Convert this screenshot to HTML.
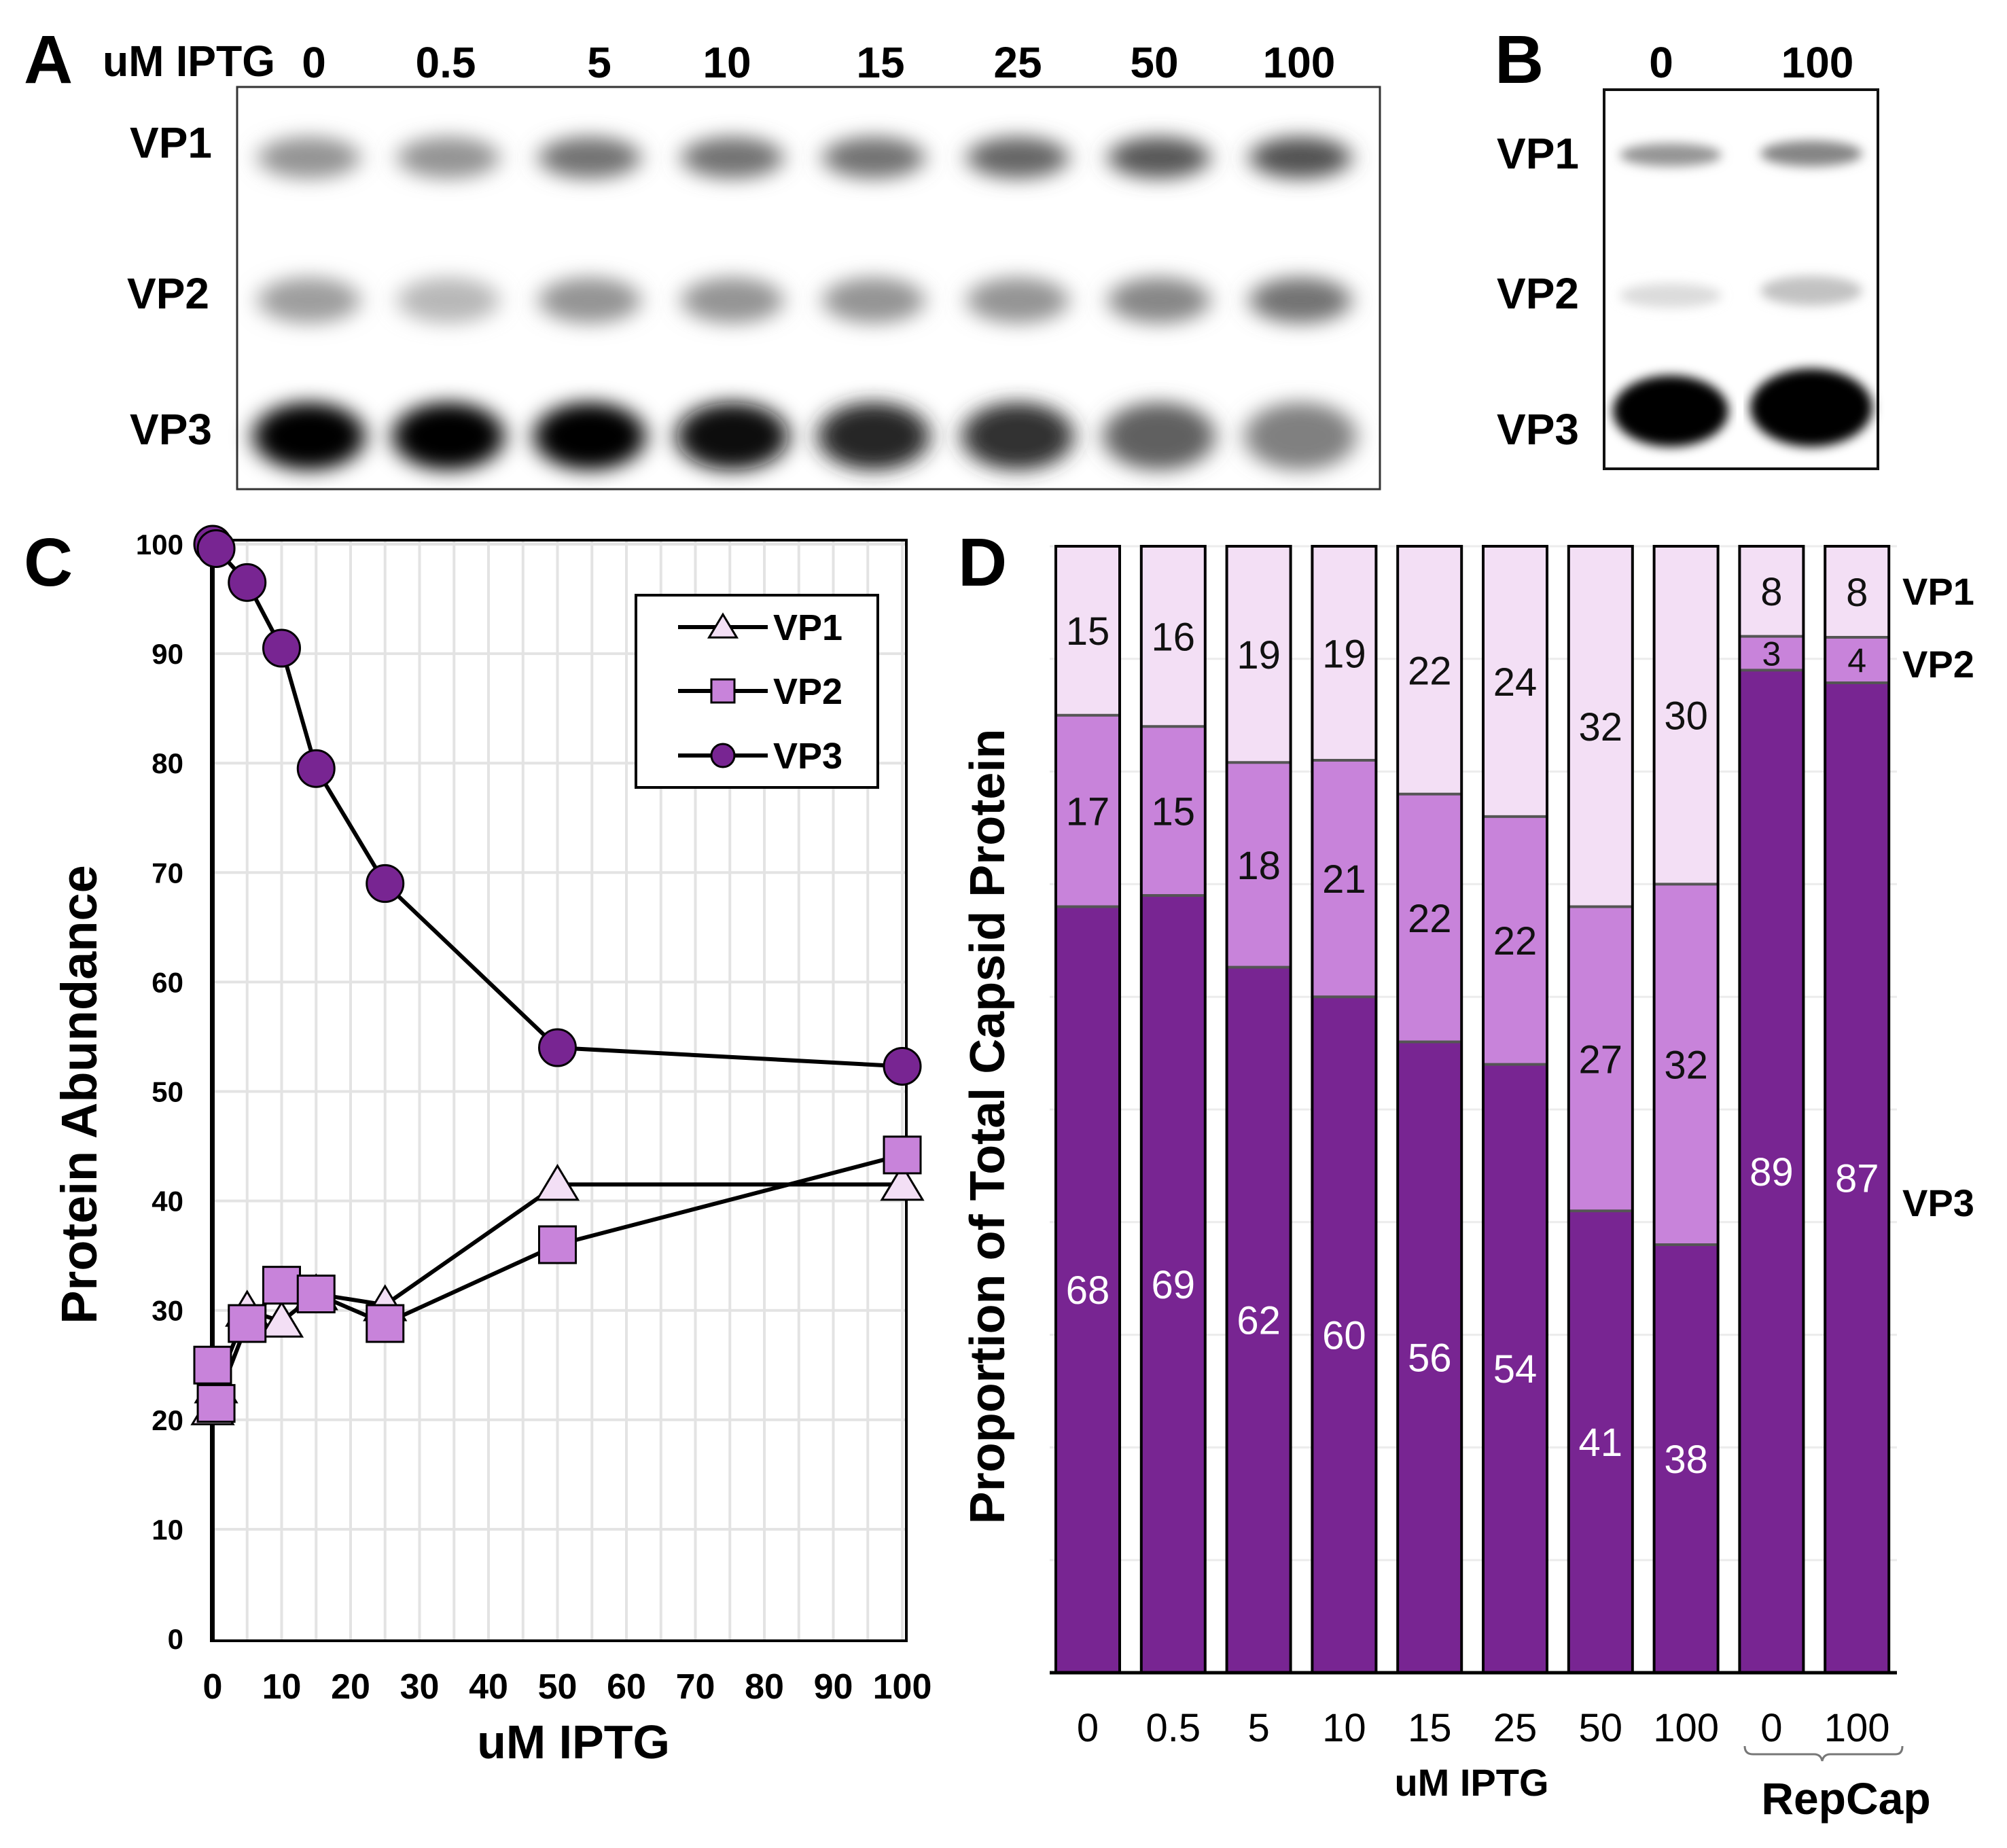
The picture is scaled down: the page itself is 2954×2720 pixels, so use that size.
<!DOCTYPE html>
<html><head><meta charset="utf-8"><style>
html,body{margin:0;padding:0;background:#fff}
svg{display:block}
text{font-family:"Liberation Sans",Arial,sans-serif}
.gl{font-family:"Liberation Sans Narrow","Liberation Sans",sans-serif;font-weight:bold;font-size:64px}
</style></head><body>
<svg id="fig" width="2954" height="2720" viewBox="0 0 2954 2720" xmlns="http://www.w3.org/2000/svg">
<defs>
<filter id="blur" x="-50%" y="-100%" width="200%" height="300%"><feGaussianBlur stdDeviation="16 14"/></filter>
<filter id="blur2" x="-50%" y="-100%" width="200%" height="300%"><feGaussianBlur stdDeviation="8 8"/></filter>
</defs>
<g>
<text x="35" y="122" font-size="100" font-weight="bold">A</text>
<text class="gl" x="151" y="112" font-size="60" textLength="254" lengthAdjust="spacingAndGlyphs">uM IPTG</text>
<g class="gl" text-anchor="middle">
<text x="462" y="114">0</text><text x="656" y="114">0.5</text><text x="882" y="114">5</text><text x="1070" y="114">10</text><text x="1296" y="114">15</text><text x="1498" y="114">25</text><text x="1699" y="114">50</text><text x="1912" y="114">100</text>
</g>
<rect x="349" y="128" width="1682" height="592" fill="#fff" stroke="#333" stroke-width="3"/>
<g id="bandsA"></g>
<g class="gl" text-anchor="end">
<text x="312" y="232">VP1</text><text x="308" y="454">VP2</text><text x="312" y="654">VP3</text>
</g>
</g>
<g>
<text x="2200" y="122" font-size="100" font-weight="bold">B</text>
<g class="gl" text-anchor="middle"><text x="2445" y="114">0</text><text x="2675" y="114">100</text></g>
<rect x="2361" y="132" width="403" height="558" fill="#fff" stroke="#111" stroke-width="4"/>
<g id="bandsB"></g>
<g class="gl" text-anchor="end"><text x="2324" y="248">VP1</text><text x="2324" y="454">VP2</text><text x="2324" y="654">VP3</text></g>
</g>
<g id="panelC">
<text x="35" y="862" font-size="100" font-weight="bold">C</text>
</g>
<g id="panelD">
<text x="1410" y="862" font-size="100" font-weight="bold">D</text>
</g>
</svg>
<script>
var NS='http://www.w3.org/2000/svg';
function mk(tag,attrs,parent){var e=document.createElementNS(NS,tag);for(var k in attrs)e.setAttribute(k,attrs[k]);if(parent)parent.appendChild(e);return e;}

var laneX=[455,660,868,1078,1286,1498,1706,1914];
var vp1Dark=[0.42,0.42,0.55,0.55,0.55,0.6,0.65,0.68];
var vp2Dark=[0.38,0.28,0.42,0.42,0.42,0.42,0.47,0.55];
var vp3Dark=[1,1,1,0.95,0.85,0.8,0.62,0.5];
var bA=document.getElementById('bandsA');
function band(g,x,y,w,h,d,f){var c=Math.round(255*(1-d));var e=mk('ellipse',{cx:x,cy:y,rx:w/2,ry:h/2,fill:'rgb('+c+','+c+','+c+')',filter:f},g);}
for(var i=0;i<laneX.length;i++){band(bA,laneX[i],232,150,62,vp1Dark[i],'url(#blur)');band(bA,laneX[i],442,150,68,vp2Dark[i],'url(#blur)');band(bA,laneX[i],642,165,100,vp3Dark[i],'url(#blur)');}
var bB=document.getElementById('bandsB');
var laneXB=[2459,2666];
band(bB,laneXB[0],228,150,34,0.42,'url(#blur2)');band(bB,laneXB[1],226,150,38,0.48,'url(#blur2)');
band(bB,laneXB[0],435,150,36,0.14,'url(#blur2)');band(bB,laneXB[1],428,150,44,0.24,'url(#blur2)');
band(bB,laneXB[0],605,170,105,1,'url(#blur2)');band(bB,laneXB[1],600,180,115,1,'url(#blur2)');
var strip=mk('rect',{x:2556,y:134,width:10,height:554,fill:'#fff'},bB);

var cX=[0,0.5,5,10,15,25,50,100];
var cVP1=[21,23,30,29,31.5,30.5,41.5,41.5];
var cVP2=[25,21.5,28.8,32.3,31.5,28.8,36,44.2];
var cVP3=[100,99.6,96.5,90.5,79.5,69,54,52.3];
var cXTicks=[0,10,20,30,40,50,60,70,80,90,100];
var cYTicks=[0,10,20,30,40,50,60,70,80,90,100];
var C=document.getElementById('panelC');
var cx0=313,cx1=1328,cy0=2412,cy1=801;
function sxC(v){return cx0+(cx1-cx0)*v/100;}
function syC(v){return cy0+(cy1-cy0)*v/100;}
for(var v=5;v<=100;v+=5){var l=mk('line',{x1:sxC(v),x2:sxC(v),y1:795,y2:2415,stroke:'#e3e3e3','stroke-width':4},C);}
for(var v=10;v<=100;v+=10){var l=mk('line',{x1:311,x2:1334,y1:syC(v),y2:syC(v),stroke:'#e3e3e3','stroke-width':4},C);}
var fr=mk('rect',{x:311,y:795,width:1023,height:1620,fill:'none',stroke:'#000','stroke-width':4},C);
var ax=mk('line',{x1:313,x2:313,y1:795,y2:2415,stroke:'#000','stroke-width':6},C);
cYTicks.forEach(function(t){var e=mk('text',{x:270,y:syC(t)+15,'text-anchor':'end','font-size':42,'font-weight':'bold'},C);e.textContent=t;});
cXTicks.forEach(function(t){var e=mk('text',{x:sxC(t),y:2500,'text-anchor':'middle','font-size':52,'font-weight':'bold'},C);e.textContent=t;});
var xt=mk('text',{x:844,y:2588,'text-anchor':'middle','font-size':70,'font-weight':'bold'},C);xt.textContent='uM IPTG';
var yt=mk('text',{x:0,y:0,'text-anchor':'middle','font-size':74,'font-weight':'bold',transform:'translate(142,1611) rotate(-90)'},C);yt.textContent='Protein Abundance';
function marker(g,type,x,y,fill,s){var e;
 if(type==='tri'){e=mk('polygon',{points:(x)+','+(y-s*0.55)+' '+(x-s*0.6)+','+(y+s*0.45)+' '+(x+s*0.6)+','+(y+s*0.45),fill:fill,stroke:'#000','stroke-width':3},g);}
 else if(type==='sq'){e=mk('rect',{x:x-s/2,y:y-s/2,width:s,height:s,fill:fill,stroke:'#000','stroke-width':3},g);}
 else {e=mk('circle',{cx:x,cy:y,r:s/2,fill:fill,stroke:'#000','stroke-width':3},g);}
 return e;}
function series(name,ys,type,fill,s){var g=mk('g',{},C);
 var d=cX.map(function(x,i){return (i?'L':'M')+sxC(x)+','+syC(ys[i]);}).join(' ');
 var p=mk('path',{d:d,fill:'none',stroke:'#000','stroke-width':6},g);
 cX.forEach(function(x,i){var m=marker(g,type,sxC(x),syC(ys[i]),fill,s);});}
series('vp1',cVP1,'tri','#f3dff5',50);
series('vp2',cVP2,'sq','#c883da',54);
series('vp3',cVP3,'circ','#782592',54);
var lg=mk('g',{},C);
mk('rect',{x:936,y:876,width:356,height:283,fill:'#fff',stroke:'#000','stroke-width':4},lg);
[['VP1','tri','#f3dff5',923],['VP2','sq','#c883da',1017],['VP3','circ','#782592',1112]].forEach(function(r){
 var eg=mk('g',{},lg);
 mk('line',{x1:998,x2:1130,y1:r[3],y2:r[3],stroke:'#000','stroke-width':6},eg);
 marker(eg,r[1],1064,r[3],r[2],34);
 var t=mk('text',{x:1138,y:r[3]+19,'font-size':54,'font-weight':'bold'},eg);t.textContent=r[0];});

var dCats=['0','0.5','5','10','15','25','50','100','0','100'];
var dVP3=[68,69,62,60,56,54,41,38,89,87];
var dVP2=[17,15,18,21,22,22,27,32,3,4];
var dVP1=[15,16,19,19,22,24,32,30,8,8];
var D=document.getElementById('panelD');
var dy0=2462,dy1=804,bx0=1554,pitch=125.8,bw=94;
function syD(p){return dy0+(dy1-dy0)*p/100;}
function sxD(i){return bx0+pitch*i;}
for(var v=10;v<=100;v+=10){var l=mk('line',{x1:1545,x2:2792,y1:syD(v),y2:syD(v),stroke:'#ececec','stroke-width':3},D);}
var cols=['#782592','#c883da','#f3dff5'];
dCats.forEach(function(c,i){
 var tot=dVP3[i]+dVP2[i]+dVP1[i];var vals=[dVP3[i],dVP2[i],dVP1[i]];var acc=0;
 var g=mk('g',{},D);
 vals.forEach(function(v,k){var a=acc/tot*100,b=(acc+v)/tot*100;acc+=v;
  var r=mk('rect',{x:sxD(i),y:syD(b),width:bw,height:syD(a)-syD(b),fill:cols[k]},g);
  if(k>0){var s=mk('line',{x1:sxD(i),x2:sxD(i)+bw,y1:syD(a),y2:syD(a),stroke:'#555','stroke-width':4},g);}
  var fs=(k===1&&v<6)?50:58;
  var t=mk('text',{x:sxD(i)+bw/2,y:(syD(a)+syD(b))/2+fs*0.36,'text-anchor':'middle','font-size':fs,fill:k===0?'#fff':'#111'},g);t.textContent=v;});
 mk('rect',{x:sxD(i),y:dy1,width:bw,height:dy0-dy1,fill:'none',stroke:'#000','stroke-width':4},g);
 var tl=mk('text',{x:sxD(i)+bw/2,y:2563,'text-anchor':'middle','font-size':58},D);tl.textContent=c;
});
var axd=mk('line',{x1:1545,x2:2792,y1:dy0,y2:dy0,stroke:'#000','stroke-width':5},D);
var t1=mk('text',{x:2166,y:2643,'text-anchor':'middle','font-size':56,'font-weight':'bold'},D);t1.textContent='uM IPTG';
var br=mk('path',{d:'M2568,2570 Q2568,2582 2580,2582 L2670,2582 Q2680,2582 2682,2592 Q2684,2582 2694,2582 L2790,2582 Q2800,2582 2800,2570',fill:'none',stroke:'#777','stroke-width':3},D);
var t2=mk('text',{x:2717,y:2670,'text-anchor':'middle','font-size':66,'font-weight':'bold'},D);t2.textContent='RepCap';
var yd=mk('text',{x:0,y:0,'text-anchor':'middle','font-size':72,'font-weight':'bold',transform:'translate(1478,1658) rotate(-90)'},D);yd.textContent='Proportion of Total Capsid Protein';
[['VP1',890],['VP2',997],['VP3',1790]].forEach(function(r){var t=mk('text',{x:2800,y:r[1],'font-size':56,'font-weight':'bold'},D);t.textContent=r[0];});
</script>
</body></html>
